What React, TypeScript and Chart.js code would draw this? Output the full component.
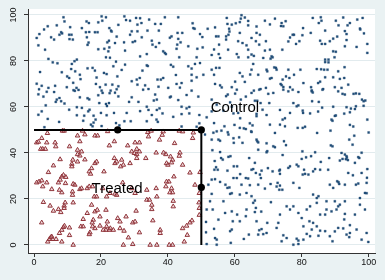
import React, { useEffect, useRef } from "react";
import { Chart, registerables } from "chart.js";

Chart.register(...registerables);

// ---- tick labels ----
const xTickValues = [0, 20, 40, 60, 80, 100];
const yTickValues = [0, 20, 40, 60, 80, 100];

// ---- boundary of the treated area (polyline) and its marked points ----
const boundaryX = [0, 50, 50];
const boundaryY = [50, 50, 0];
const dotX = [25, 50, 50];
const dotY = [50, 50, 25];

// ---- text labels ----
const labelTexts = ["Control", "Treated"];
const labelX = [52.8, 17.2];
const labelY = [59.7, 24.6];

// ---- Treated observations (x, y) ----
const treatedPoints: [number, number][] = [
  [4,48.6],[0.8,44.5],[2.3,46.4],[1.3,44.8],[2,41.7],[2.6,41.7],[3.4,41.7],[3.8,44.5],[6.3,44.5],[6.5,42.8],[8.5,49.6],[9,49.6],[10.6,42.8],[13,47.5],[13.7,45],[13,41.3],[14.2,40.6],[14.5,49.6],[15.2,48],[18.2,47.5],[19,47.5],[22,49.4],[22.5,43.2],[24,45],[28,43.2],[30.2,44.5],[31.5,44.5],[30.7,41.7],[31.5,40.6],[34,49],[34.2,47.1],[35,49.6],[36.5,40.1],[37.5,45.7],[38.3,47.8],[38.6,49.3],[38.7,40.1],[42,44.2],[43.4,49.6],[44.4,49.3],[43.6,40.1],[47.6,48.8],[47.4,46.4],
  [13,39.4],[13.7,38.8],[13,36.2],[11.6,37],[11.3,35.2],[11.3,34.1],[7.8,37.2],[5.8,34.5],[4.3,31.6],[16.5,31.9],[17.2,33.3],[16.9,30.9],[18.2,35.5],[18.7,36.2],[15.2,37.1],[20.9,31.9],[24,37.7],[24.2,35.5],[24.7,36.2],[26.2,37],[26.7,34.8],[25.9,34.1],[28.7,35.5],[29.2,40.6],[30,39.9],[30.7,39.4],[30.7,37.7],[33.4,37.7],[39.4,39.4],[39.6,35.5],[40,34.8],[40.8,38.4],[41.4,37],[41.1,35.8],[43.4,38.7],[44.4,34.8],[46.6,31.4],[49.6,31.6],
  [0.8,27.1],[1.5,27.5],[2.3,28],[3.8,27.1],[2.6,25.4],[5.3,24.2],[7.3,27.1],[7.8,28.3],[8.3,29.7],[8.8,30.4],[9.5,29.5],[9.4,26.8],[7.6,23.9],[8.3,22.8],[11.7,26.5],[12.2,26.1],[11.5,23.2],[11.5,21.7],[13.7,24.2],[14.2,24.6],[15.9,24.6],[16.5,25.4],[17.5,25.4],[18,21],[18.7,21],[20.5,24.6],[21.7,21],[22.7,22.5],[24.2,22.2],[24.7,21.7],[26.5,27.1],[29.2,24.6],[30.2,22.5],[33.7,23.9],[36.5,24.6],[36.7,21],[39.6,27.5],[40.3,27.5],[39.4,25.4],[41.1,24.6],[41.4,22.8],[40.6,22.8],[41.8,29.7],[48.1,26.1],[49.4,22.5],
  [2.8,18.6],[4.8,17],[5.8,14.8],[7.3,15.5],[8,14.2],[9,17],[9.3,18.4],[9,16],[11.7,18.4],[14.7,11.2],[15.9,13.8],[17.2,17.4],[18.2,14.5],[18.9,15.2],[19.7,12.3],[21.5,15.2],[17.7,10.9],[17.4,9.7],[2.3,9.7],[21.9,10.1],[25,11.6],[25.7,10.1],[27.5,12.3],[29.5,9.7],[30.2,10.1],[30.5,14.8],[33.7,19.6],[34.5,19.6],[35.2,17.4],[35.2,15.5],[35.5,10.6],[41.6,19.1],[41.6,16.7],[49.3,18.4],[49.4,16],[49.4,13],[47.2,10.6],[45.6,8.3],[46.6,9.7],
  [4.1,1.4],[4.6,2.5],[5,3.3],[5.3,3.6],[5.6,2.5],[6.6,2.5],[8.3,1.4],[8.3,6.5],[8.8,7.7],[9.1,8.3],[7.6,5.1],[10.6,7.5],[10.6,4.2],[11.7,0],[14,8],[14.7,8],[16.7,5.4],[16.5,4.6],[17.5,8],[18.2,7.2],[19.7,8.3],[20.7,6.5],[21.5,6.5],[21.7,8],[22.5,6.5],[22.8,7.2],[23.7,6.5],[25.7,7.2],[26.9,6.1],[26.7,0],[28.2,3.2],[29.5,0.3],[31.5,5.4],[34.7,0],[36.7,0],[37.7,6.5],[37.7,5.1],[40.4,0],[41.4,0],[44.9,1.4],[44.4,7.2],[45.8,4.3],
];

// ---- Control observations (x, y) ----
const controlPoints: [number, number][] = [
  // upper left
  [8.8,99],[9.1,97.2],[4.1,95.1],[3,93.7],[1.6,91.7],[0.8,90],[1.3,86.8],[3.3,84.9],[5.1,90.3],[6,89.3],[6.8,95.5],[7.6,91.4],[8.1,92.5],[8.4,92],[10.8,94.7],[10.5,91.4],[11.2,91.4],[10.6,89.5],[11.6,89.3],[14.3,94.3],[15.7,97.2],[16.4,96.5],[15.5,92.5],[16.5,92.6],[15.8,90.3],[18.2,92.5],[19,92.5],[19.2,96.8],[20.2,99.4],[21.5,99],[20.4,97.5],[22.5,94.3],[23,93.2],[23.2,92.8],[24.7,90.6],[22.4,88.8],[21.9,88.1],[24.2,87.8],[21,85.3],[22.5,85.9],[22.2,84.2],[19.2,85.1],[16,87],[16.3,88],[27,99.4],[28.7,97.5],[30.5,98.7],[32.1,96.5],[30.9,95.8],[29.2,92.9],[28.7,91.4],[30.9,92.9],[32.2,90.3],[30.2,88.6],[29.5,88.2],[27.2,84.5],[31.7,82],[4.3,80.9],[5.6,79.4],[1.8,75.2],[8.3,75.1],[11.3,78.7],[12.1,79.9],[12.8,80.6],[11.1,76.5],[12.3,75.5],[9.9,73.3],[10.5,72.6],[13.7,74],[13.9,72.1],[17.5,77],[18.2,75.8],[20.9,74.8],[21.7,74.3],[23.7,77.7],[24.9,73.3],[26.2,76.1],[27.2,78.4],[0.8,70.1],[2.3,69.2],[4.3,68.3],[6.3,69.2],[9.8,68.6],[11.7,70.5],[12.7,68.3],[11.8,67.3],[18.5,70],[19.7,68.6],[20.2,67.1],[21.4,69.7],[22.9,67.1],[23.4,69.7],[25.2,69],[29.2,71.2],[30.7,71.9],[31.6,72.6],[32.4,75.8],[30.9,69.7],[32.6,67.5],
  [25.2,95.7],[22.7,81.4],[21.5,81.6],[24.5,79.7],[16,76.8],[18.7,72.8],[1.5,67.7],[7,79],[13.3,67.4],[24.7,67.7],[24.2,66.2],[27.5,97.8],[31.7,98.6],[26.9,88.1],
  // left middle band
  [1.3,65.5],[3.8,66.6],[6,66.5],[7.6,63.9],[6.8,63.2],[6.5,62.2],[8.1,62.5],[9.1,61.5],[3.5,60.7],[2.3,58.1],[4.1,54.8],[1.3,56.6],[3.1,51.2],[7.5,53.5],[10.5,58.8],[12.8,59.9],[12.8,56.4],[14.3,59.6],[13.7,64.2],[12.2,67],[14.7,54],[15,56.2],[16.2,58.1],[16.6,58.8],[17.8,56.2],[17,52.3],[17.5,51.6],[18.4,54.5],[17.8,53.2],[19.5,61.7],[20,57.4],[20.5,66.1],[19.2,65.1],[21.5,61.3],[22.4,61.7],[21.8,60.4],[22.6,66],[23.9,57.4],[24.5,53],[25.5,52],[25.2,64.6],[27.7,57.4],[28.4,62.2],[29.2,64.2],[31.2,62.2],[31.7,58.2],[27,53.8],[28.9,53.8],[16,63.8],[16.5,63.3],[20.2,51.7],[21.7,56.4],[2.8,64.5],
  // upper middle
  [34.4,98],[36.2,96.1],[37.9,96.1],[37.3,93.2],[39.1,99],[43.1,99],[33.9,93.2],[35.2,88.8],[35.4,87.1],[37.4,87.8],[36.4,86.1],[33.7,83],[38.6,84.2],[39.1,83.5],[39.4,83],[41.1,90.7],[42.9,92.2],[44.3,92.2],[43.1,89.6],[43.8,88.1],[42.8,87.1],[42.6,85.3],[43.4,81.6],[46.1,86.4],[47.6,94.3],[48,94],[49.6,91.7],[50.3,90.4],[48.8,85.3],[50.4,85.9],[51.9,94],[54.1,94.6],[54.4,90.7],[55.1,90.7],[55.3,87.1],[53.8,85],[55.6,81.3],[57.6,98.7],[57.8,96.1],[59.1,95.8],[58.3,94],[58.4,92.8],[58.1,91.4],[57.4,90.7],[57.4,89.3],[60.3,96.4],[61.5,96.9],[61.8,98.4],[62,99.9],[63,98.9],[64,97.4],[64,95.5],[61.5,92.2],[61,88.6],[62.3,87.8],[63.5,86.8],[64,84.9],[65,82.8],[60.6,83],[61.1,81.6],[58,84.9],[55.2,83],[48.6,81.6],[49.6,79.1],[48.1,78.7],[46.1,77.7],[47.1,74],[48.6,72.9],[50.6,74],[53.1,76.2],[54.4,77],[55.4,77],[53.8,74],[54.1,70],[55.6,69.4],[56.1,68.5],[59.1,68.6],[60.6,67.5],[61.5,74.8],[62.3,73.3],[63,70.9],[64.6,74.1],[65.5,78.7],[47.1,71.4],[44.1,70.4],[42.6,70],[40.1,68.3],[38.6,72.6],[37.9,71.9],[36.9,71.9],[33.7,78.1],[34,77.8],[33.2,69.4],[34.2,67.8],
  [40.9,78.3],[41.6,77.5],[42.4,73.9],[43.6,68.4],[47.1,67.1],[37.2,68.8],[40.6,90.1],[47.4,96.4],[47.1,76.7],[53.1,82.6],[60.1,71],[64,81.6],
  // upper right
  [69,97.5],[72,98.4],[70.5,95.9],[74,96.5],[75.2,97.3],[74.5,95.1],[73.8,95.2],[66.5,95],[83.3,98.7],[85.7,99],[85.9,97.5],[85.1,96.5],[90.2,97.5],[92.4,98.9],[94.4,96.5],[93.7,95.5],[91,95.5],[96.6,98],[98.2,98.7],[97.4,94.1],[97.5,93.7],[66.5,92.2],[67.5,91.4],[69.3,88.6],[66.3,88.6],[67.3,87.1],[65,90],[70.5,84.9],[69,84.5],[68.5,81.3],[65.7,82.2],[71,82],[70.7,81],[71.3,81.6],[74.2,84.9],[77.3,91.4],[77.7,91.4],[76.5,90.2],[76,88.5],[78.3,87.4],[79.3,88.6],[80.2,91.2],[80.4,94.3],[82.7,92.2],[85.5,88.8],[86,87.4],[87,87.4],[87,93.2],[88.4,88.6],[89.4,89.7],[90.6,90.6],[92.9,86.4],[93.4,91.7],[92.9,93],[96.4,86.1],[99.6,87.4],[99.6,83.5],[89.4,84.2],[90.2,84],[89.8,81.6],[87,80.6],[88,80.6],[87,79.5],[88,79.4],[87.7,76.2],[86.7,76.2],[85.8,76.4],[84.5,76.5],[87,72.9],[89.4,72.9],[90.9,75.5],[92.8,77.3],[91.4,72.2],[92.7,72.6],[93.9,69.7],[91.9,68.3],[89.9,68.6],[86.4,67.8],[84.9,70.4],[82.8,68.6],[83,67.2],[80.5,70.4],[79.6,76.2],[77.7,74],[76.3,72.6],[75.3,73.3],[74.3,71.9],[73.7,70],[74,69.5],[74.5,68.7],[76.5,68.6],[71,72.6],[70.5,72.3],[69.3,68.3],[67.7,67.8],[67,74],[69.5,76.2],[69.7,75.5],[72.3,77],[72.5,76.2],[71.8,77.2],[76,76.2],[65,76.2],
  [98.6,92],[93.4,89.1],[85.5,71],
  // middle band, centre
  [33.7,60.1],[34.2,58.7],[35.2,56.5],[36.7,58.7],[37.5,59.4],[38.4,57.2],[35.8,62.8],[36.7,63.2],[40.9,64.5],[44.1,60.1],[45.6,59.4],[46.4,60],[49.1,64.5],[49.4,56.5],[48.6,51.4],[49.4,52.9],[46.4,57.2],[44.1,56.9],[37,53.5],[41.6,55.7],[43.1,63],[45.6,65.2],[33.7,53.8],[36.6,54.5],[40.6,64.2],[36.2,65.4],[44.1,51.5],
  [53.1,63.2],[54.6,61],[53.1,58.1],[56.6,58.4],[57.4,64.7],[57.9,65.4],[60.1,65.8],[61.8,63.2],[61,57.4],[59.6,57.2],[56.9,51.6],[59.9,52.2],[61.5,50.9],[63.3,50.4],[61.6,55.1],[58.6,62],[51.6,55.5],[53.8,53],[59.1,60.1],[62.7,50.7],[64.5,52.9],[63.3,64.5],
  // right middle band
  [65,66.1],[65.7,67.1],[67.3,67.5],[66,62.7],[66.7,62.7],[67.7,61.7],[68.3,58.8],[66.5,57],[66.5,56],[70.3,61.7],[70,65.7],[71.5,66.1],[74.5,67.5],[76,66.8],[77.3,67.5],[79,66.5],[83,66.8],[83.3,66.3],[86.2,67.5],[90.9,66.8],[92.2,65.7],[92.9,65.4],[95.5,65.7],[96.2,65.9],[97.2,65.7],[98,63.2],[98.5,62.5],[99,62.8],[98.5,60.5],[77.5,61.7],[78.5,60.3],[79,60.7],[80.3,58.4],[80.4,57.4],[83.1,62.5],[85.1,62.2],[86.1,59.7],[84.9,58],[89.9,56.1],[89.2,54],[88.9,54.5],[90.2,56.3],[88.6,49.7],[88.7,43.3],[89.2,42.9],[92.7,57.1],[93.4,59.9],[94.4,57.7],[94.7,59.3],[95.9,59.1],[96.2,60.3],[94.4,52.2],[95.4,51.5],[95.7,47.5],[94.2,45.8],[99.6,54.5],[100,48.9],[95.2,43.6],[91.9,40],[92.9,39.3],[93.4,38.6],[93.2,37.3],[93.5,38],[93.8,36.9],[91.4,36.7],[92.2,37.4],[88.2,37.8],[85.7,36.1],[84,40.3],[82.8,38.6],[81.3,38.1],[80,37.4],[80.2,40.7],[78.5,34.9],[79,34.2],[76.5,34.2],[76,33.5],[73.3,32.3],[71.3,32],[68,32.3],[65.5,33],[69.9,33.4],[66,35.7],[69.5,40.3],[69.7,40.8],[67,41.4],[66.5,45.8],[66.7,45.1],[67,44.6],[65,49.1],[65.3,52],[72,48.7],[70.5,52.3],[73.5,52.3],[75,51.6],[74.7,45.1],[75.3,43.4],[72,42.5],[71.5,42.9],[74.3,54.5],[76.5,57.4],[78.8,50.9],[80.3,50.9],[84.6,48.7],[97.2,37.8],[96.9,38.2],[99.6,33],[95.9,35.7],
  [97.9,40.1],[74.3,39.1],[69.5,44.2],[89.4,60.1],[82.5,57.2],[81,51.4],[75,55.1],[73.5,58.7],[69.5,56.5],
  // lower right, next to the boundary
  [51.1,48],[53.1,45.8],[55.1,45.8],[55.6,45.3],[54.6,49.4],[56,49.7],[57.9,49],[58.1,48],[64.9,49.4],[61.3,46.8],[62.3,44.4],[59.7,44.4],[55.6,40.4],[53.3,41.2],[55.9,37.8],[56.4,37.1],[58.1,38.3],[58.7,38.6],[60.7,34.2],[59.7,34.2],[64.3,37.8],[54.4,33.8],[54,36.5],[53.6,48.8],[59.6,46.4],
  [52.1,26.2],[53.1,22.2],[52.6,19],[51.6,15.4],[53.4,15.4],[51.4,10],[51.4,5.5],[53.8,7],[55.1,11],[54.1,3],[54.6,2.3],[51.6,0.4],[54.6,0.1],[58.8,0.9],[59.1,6.7],[58.6,6],[59.4,10.3],[60.7,13.2],[59.1,14.6],[56.6,19],[58.6,22.2],[59.1,22.5],[61.5,21.9],[63.5,15.4],[62.7,2.6],[55.6,27.4],[57.8,24.8],[58.4,25],[59.6,29.1],[60.6,29.1],[62,26.2],[64.5,26],[53.1,28.4],[54.1,28.6],[53.9,32.7],[54.9,32.7],[57.8,32.3],[63.3,29.1],[64,28.9],[57.1,13.9],[63.5,22.6],[63.3,12.5],[61.5,10.3],[64.2,4.5],[57.2,26.2],[61.6,30.8],
  // lower right corner
  [65,32.7],[66.3,31.3],[67.5,30.6],[67.8,29.1],[67,26.2],[65,21.2],[66,19.3],[65.5,18.3],[66.3,16.1],[66,14.3],[67.9,14.5],[66.5,10.3],[67.3,6.4],[68,6.9],[67,4.5],[68.5,4.7],[69.5,5.2],[69.7,9.6],[70.8,18.6],[69,24.5],[70.7,26.5],[72.8,27],[73.5,25.8],[72.5,25.4],[73.3,24],[73.5,30.9],[74.2,24],[77.5,27],[79.3,24.8],[80.3,30.6],[81,30.9],[82,30.6],[83.4,32],[85.5,32.7],[88.4,26.2],[89.4,24.8],[90.6,27.7],[91,27.3],[91.2,26.5],[92.9,26.2],[93.9,31.3],[95.3,30.3],[96.2,26.2],[96.9,26.7],[99.4,27],[99.5,29.2],[98.9,22.6],[99.4,22.5],[97.4,20.4],[97.4,17.5],[98.9,15.4],[95.9,13.2],[96.4,6.7],[97.9,2.3],[99.9,1.3],[99.4,5.2],[92.9,13.5],[92.7,11.1],[93.4,4.5],[94.2,3.4],[90.9,7.4],[89.9,5.9],[89.2,1.6],[88.4,3.8],[85.5,6.2],[83,6.7],[82.5,3.8],[80.5,2.3],[79,1.9],[78.5,2.7],[77.5,0.1],[75.5,3],[74.5,4.2],[74,1.6],[79,0.4],[83.4,9.6],[87,13.2],[88.9,14.6],[90.9,16.8],[85,21.2],[81.5,15.4],[76.5,15.4],
  [73.5,32.7],[80.7,32.7],[84,33],[87.9,32.7],[97.9,31.3],[94.4,8.6],[94.4,5.2],[92.4,7.2],[87,6],[85,4],[81.5,4.8],[80.5,8.1],[82.3,10.3],[84.5,8.1],[85.5,13.2],[87.4,15.4],[90.4,15.4],[91.4,17.5],[92.9,19],[89.9,19],[87.4,19],[84.5,20.4],[83.4,21.9],[84.5,18.3],[82.5,16.8],[80,11.7],[79,13.9],[77.5,16.8],[75.5,16.8],[73.5,13.2],[73,9.6],[72.5,7.4],
];

const FONT = '"Liberation Sans", Arial, sans-serif';

export default function App() {
  const canvasRef = useRef<HTMLCanvasElement | null>(null);

  useEffect(() => {
    document.body.style.margin = "0";
    const canvas = canvasRef.current;
    if (!canvas) return;

    const bgPlugin = {
      id: "stataBg",
      beforeDraw(chart: any) {
        const { ctx, chartArea: a, width, height } = chart;
        ctx.save();
        ctx.fillStyle = "#eaf2f3";
        ctx.fillRect(0, 0, width, height);
        ctx.fillStyle = "#ffffff";
        ctx.fillRect(a.left, a.top, a.right - a.left, a.bottom - a.top);
        ctx.restore();
      },
    };

    const textPlugin = {
      id: "areaLabels",
      afterDatasetsDraw(chart: any) {
        const { ctx, scales } = chart;
        ctx.save();
        ctx.font = `15px ${FONT}`;
        ctx.fillStyle = "#000";
        ctx.textAlign = "left";
        ctx.textBaseline = "middle";
        labelTexts.forEach((t, i) => {
          ctx.fillText(t, scales.x.getPixelForValue(labelX[i]), scales.y.getPixelForValue(labelY[i]));
        });
        ctx.restore();
      },
    };

    const chart = new Chart(canvas, {
      type: "scatter",
      data: {
        datasets: [
          {
            label: "points",
            data: dotX.map((x, i) => ({ x, y: dotY[i] })),
            pointStyle: "circle",
            pointRadius: 3.6,
            backgroundColor: "#000",
            borderColor: "#000",
            borderWidth: 0,
            order: 0,
          },
          {
            type: "line",
            label: "boundary",
            data: boundaryX.map((x, i) => ({ x, y: boundaryY[i] })),
            showLine: true,
            borderColor: "#000",
            borderWidth: 2,
            pointRadius: 0,
            fill: false,
            tension: 0,
            order: 1,
          } as any,
          {
            label: "Treated",
            data: treatedPoints.map(([x, y]) => ({ x, y })),
            pointStyle: "triangle",
            pointRadius: 2.6,
            borderColor: "#90353b",
            backgroundColor: "rgba(215,150,155,0.35)",
            borderWidth: 1,
            order: 2,
          },
          {
            label: "Control",
            data: controlPoints.map(([x, y]) => ({ x, y })),
            pointStyle: "rect",
            pointRadius: 1.45,
            backgroundColor: "#23507a",
            borderColor: "rgba(26,71,111,0.3)",
            borderWidth: 1,
            order: 3,
          },
        ],
      },
      options: {
        animation: false,
        responsive: false,
        maintainAspectRatio: false,
        events: [],
        layout: { padding: { top: 9, right: 10, left: 0, bottom: 0 } },
        plugins: { legend: { display: false }, tooltip: { enabled: false } },
        scales: {
          x: {
            type: "linear",
            min: -1.8,
            max: 101.9,
            afterBuildTicks: (s: any) => {
              s.ticks = xTickValues.map((v) => ({ value: v }));
            },
            afterFit: (s: any) => {
              s.height = 27;
            },
            grid: {
              display: true,
              drawOnChartArea: false,
              drawTicks: true,
              tickLength: 4,
              tickColor: "#333",
              tickWidth: 1,
            },
            border: { display: true, color: "#333", width: 1 },
            ticks: {
              padding: 0,
              color: "#111",
              font: { family: FONT, size: 9 },
              maxRotation: 0,
              autoSkip: false,
            },
          },
          y: {
            type: "linear",
            min: -3.5,
            max: 102.6,
            afterBuildTicks: (s: any) => {
              s.ticks = yTickValues.map((v) => ({ value: v }));
            },
            afterFit: (s: any) => {
              s.width = 28;
            },
            grid: {
              color: "#e2ebee",
              lineWidth: 1,
              drawTicks: true,
              tickLength: 4,
              tickColor: "#333",
              tickWidth: 1,
            },
            border: { display: true, color: "#333", width: 1 },
            ticks: {
              minRotation: 90,
              maxRotation: 90,
              crossAlign: "center",
              padding: 2.5,
              color: "#111",
              font: { family: FONT, size: 9 },
              autoSkip: false,
            },
          },
        },
      },
      plugins: [bgPlugin, textPlugin],
    } as any);

    return () => chart.destroy();
  }, []);

  return (
    <div style={{ width: 385, height: 280 }}>
      <canvas ref={canvasRef} width={385} height={280} style={{ display: "block" }} />
    </div>
  );
}
